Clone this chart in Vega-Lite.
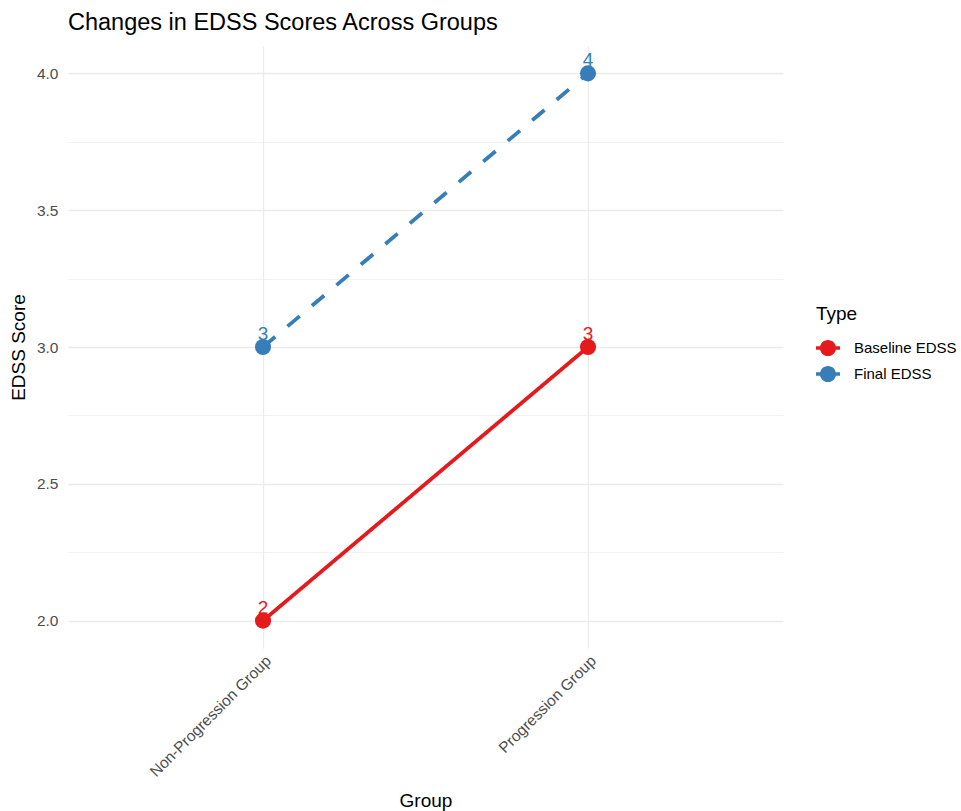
{
  "$schema": "https://vega.github.io/schema/vega-lite/v6.json",
  "width": 715,
  "height": 602,
  "autosize": {"type": "none"},
  "padding": {"left": 68, "top": 46, "right": 178, "bottom": 163},
  "background": "white",
  "config": {
    "view": {"stroke": null},
    "font": "Liberation Sans"
  },
  "title": {
    "text": "Changes in EDSS Scores Across Groups",
    "anchor": "start",
    "frame": "group",
    "fontSize": 23.5,
    "fontWeight": "normal",
    "color": "#000000",
    "font": "Liberation Sans",
    "offset": 12
  },
  "data": {
    "values": [
      {"Group": "Non-Progression Group", "Type": "Baseline EDSS", "EDSS": 2},
      {"Group": "Progression Group", "Type": "Baseline EDSS", "EDSS": 3},
      {"Group": "Non-Progression Group", "Type": "Final EDSS", "EDSS": 3},
      {"Group": "Progression Group", "Type": "Final EDSS", "EDSS": 4}
    ]
  },
  "encoding": {
    "x": {
      "field": "Group",
      "type": "nominal",
      "sort": ["Non-Progression Group", "Progression Group"],
      "scale": {"type": "point", "padding": 0.6},
      "axis": {
        "title": "Group",
        "titleFontSize": 19,
        "titleFontWeight": "normal",
        "titleColor": "#000000",
        "titlePadding": 12,
        "labelAngle": -45,
        "labelAlign": "right",
        "labelBaseline": "top",
        "labelFontSize": 15.5,
        "labelColor": "#4D4D4D",
        "labelPadding": 5,
        "ticks": false,
        "domain": false,
        "grid": true,
        "gridColor": "#EBEBEB",
        "gridWidth": 1.2
      }
    },
    "y": {
      "field": "EDSS",
      "type": "quantitative",
      "scale": {"domain": [1.9, 4.1], "nice": false, "zero": false},
      "axis": {
        "title": "EDSS Score",
        "titleFontSize": 19,
        "titleFontWeight": "normal",
        "titleColor": "#000000",
        "titlePadding": 8,
        "values": [2, 2.25, 2.5, 2.75, 3, 3.25, 3.5, 3.75, 4],
        "labelExpr": "(datum.value * 2) % 1 === 0 ? format(datum.value, '.1f') : ''",
        "labelFontSize": 15.5,
        "labelColor": "#4D4D4D",
        "labelPadding": 10,
        "ticks": false,
        "domain": false,
        "grid": true,
        "gridColor": "#EBEBEB",
        "gridWidth": {"condition": {"test": "(datum.value * 2) % 1 !== 0", "value": 0.7}, "value": 1.3}
      }
    },
    "color": {
      "field": "Type",
      "type": "nominal",
      "scale": {"domain": ["Baseline EDSS", "Final EDSS"], "range": ["#E41A1C", "#377EB8"]},
      "legend": {
        "title": "Type",
        "orient": "none",
        "legendX": 748,
        "legendY": 259,
        "titleFontSize": 19,
        "titleFontWeight": "normal",
        "titleColor": "#000000",
        "titlePadding": 12,
        "labelFontSize": 15,
        "labelColor": "#000000",
        "labelOffset": 14,
        "rowPadding": 5,
        "symbolType": "M-1,-0.15L1,-0.15L1,0.15L-1,0.15Z M0.67,0A0.67,0.67 0 1,1 -0.67,0A0.67,0.67 0 1,1 0.67,0Z",
        "symbolSize": 576,
        "symbolStrokeWidth": 0,
        "symbolOpacity": 1
      }
    }
  },
  "layer": [
    {
      "mark": {"type": "line", "strokeWidth": 3.8, "strokeCap": "butt"},
      "encoding": {
        "strokeDash": {
          "field": "Type",
          "type": "nominal",
          "scale": {"domain": ["Baseline EDSS", "Final EDSS"], "range": [[1, 0], [16, 16]]},
          "legend": null
        }
      }
    },
    {
      "mark": {"type": "point", "filled": true, "size": 260, "opacity": 1}
    },
    {
      "mark": {"type": "text", "fontSize": 19, "baseline": "alphabetic", "dy": -7, "font": "Liberation Sans"},
      "encoding": {"text": {"field": "EDSS", "type": "quantitative", "format": "d"}}
    }
  ]
}
